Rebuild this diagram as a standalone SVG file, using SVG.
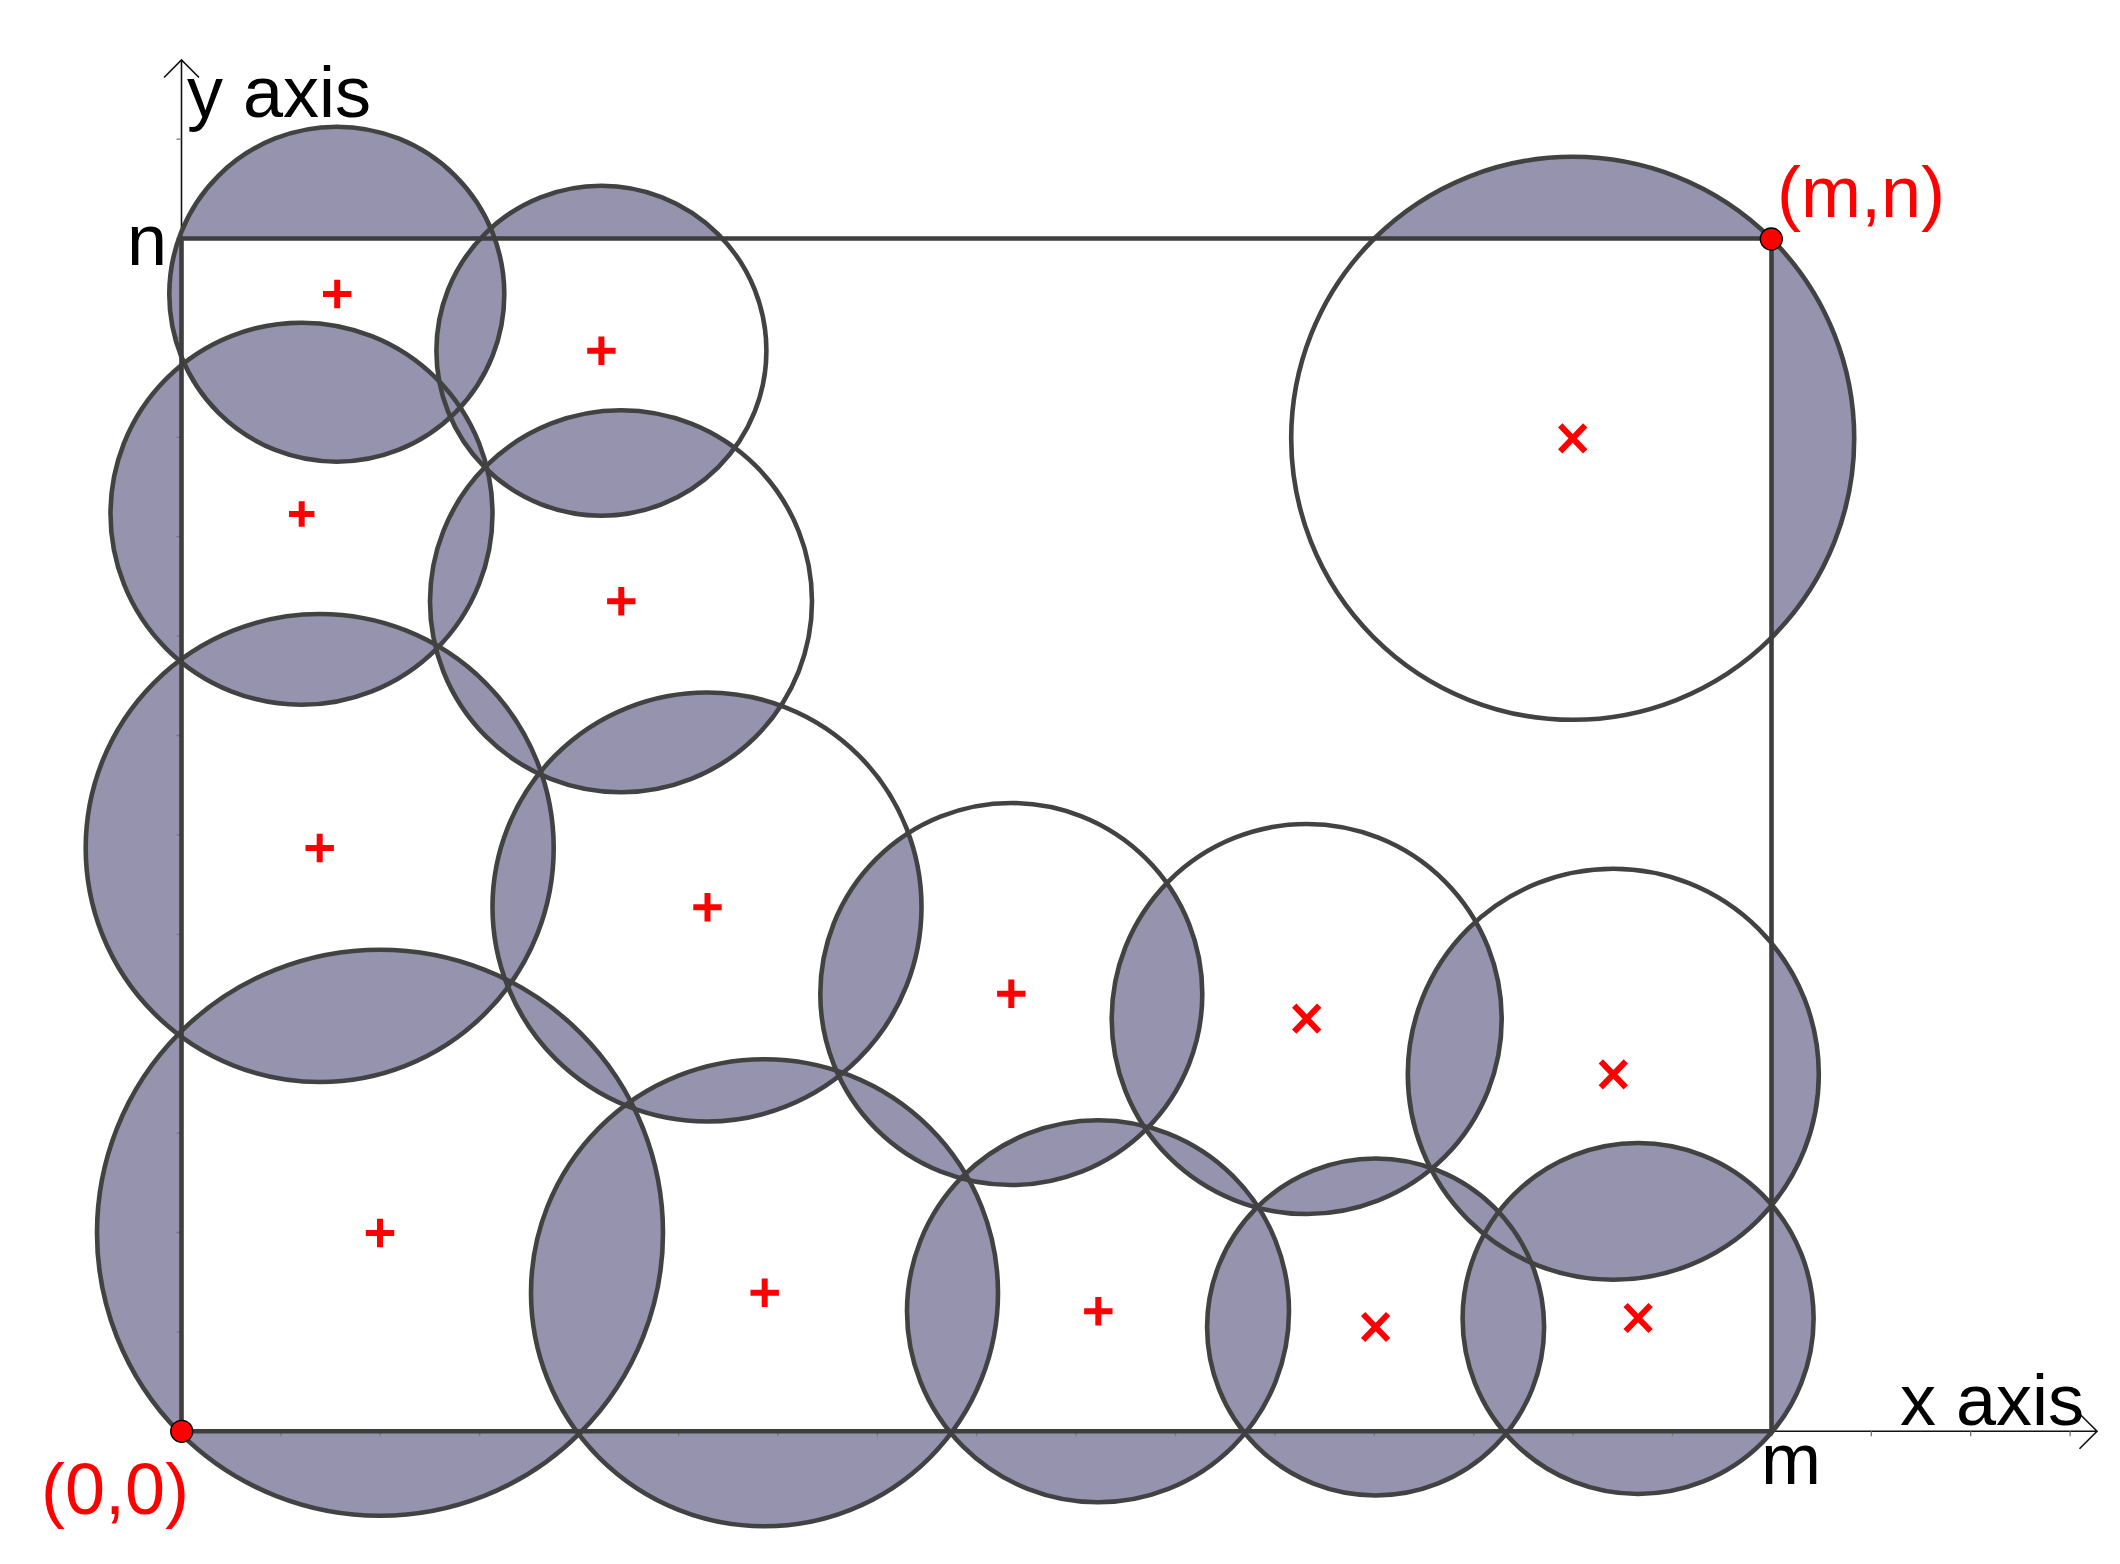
<svg xmlns="http://www.w3.org/2000/svg" xmlns:xlink="http://www.w3.org/1999/xlink" width="2120" height="1564" viewBox="0 0 2120 1564">
<style>
.sh{fill:#9693ae;stroke:none}
.ol{fill:none;stroke:#424242;stroke-width:4.6}
.rect{fill:none;stroke:#3e3e3e;stroke-width:4.6}
.ax{fill:none;stroke:#111;stroke-width:1.6}
.tk{stroke:#777;stroke-width:1.3}
.mk{stroke:#ff0000;stroke-width:6;fill:none}
.pt{fill:#ff0000;stroke:#000;stroke-width:1.3}
.lb{font-family:"Liberation Sans",Arial,sans-serif;font-size:72px;fill:#000}
.lr{font-family:"Liberation Sans",Arial,sans-serif;font-size:72px;fill:#ff0000}
</style>
<defs>
<circle id="c1" cx="336.8" cy="294.2" r="167.5"/>
<circle id="c2" cx="601.4" cy="350.7" r="165"/>
<circle id="c3" cx="301.5" cy="513.7" r="191"/>
<circle id="c4" cx="621" cy="601.3" r="191"/>
<circle id="c5" cx="319.7" cy="848" r="234"/>
<circle id="c6" cx="707" cy="907" r="214.5"/>
<circle id="c7" cx="380" cy="1232.7" r="283"/>
<circle id="c8" cx="764.5" cy="1292.7" r="233.5"/>
<circle id="c9" cx="1011.3" cy="994" r="191"/>
<circle id="c10" cx="1098" cy="1311.3" r="191"/>
<circle id="c11" cx="1306.7" cy="1019" r="195"/>
<circle id="c12" cx="1375.6" cy="1327" r="168.5"/>
<circle id="c13" cx="1613.3" cy="1074.3" r="205.5"/>
<circle id="c14" cx="1638.1" cy="1318.5" r="175.5"/>
<circle id="c15" cx="1572.7" cy="438.3" r="281.5"/>
<clipPath id="out"><path clip-rule="evenodd" d="M0 0H2120V1564H0Z M181.5 238.5V1431.3H1771.5V238.5Z"/></clipPath>
<clipPath id="k1"><use xlink:href="#c1"/></clipPath>
<clipPath id="k2"><use xlink:href="#c2"/></clipPath>
<clipPath id="k3"><use xlink:href="#c3"/></clipPath>
<clipPath id="k4"><use xlink:href="#c4"/></clipPath>
<clipPath id="k5"><use xlink:href="#c5"/></clipPath>
<clipPath id="k6"><use xlink:href="#c6"/></clipPath>
<clipPath id="k7"><use xlink:href="#c7"/></clipPath>
<clipPath id="k8"><use xlink:href="#c8"/></clipPath>
<clipPath id="k9"><use xlink:href="#c9"/></clipPath>
<clipPath id="k10"><use xlink:href="#c10"/></clipPath>
<clipPath id="k11"><use xlink:href="#c11"/></clipPath>
<clipPath id="k12"><use xlink:href="#c12"/></clipPath>
<clipPath id="k13"><use xlink:href="#c13"/></clipPath>
<clipPath id="k14"><use xlink:href="#c14"/></clipPath>
<path id="plus" d="M-14.2 0H14.2M0 -14.2V14.2"/>
<path id="plus-s" d="M-12.7 0H12.7M0 -12.7V12.7"/>
<path id="cross" d="M-12.5 -13L12.5 13M12.5 -13L-12.5 13"/>
</defs>
<rect width="2120" height="1564" fill="#fff"/>

<g id="shading-outside" class="sh" clip-path="url(#out)">
<use xlink:href="#c1"/><use xlink:href="#c2"/><use xlink:href="#c3"/><use xlink:href="#c4"/><use xlink:href="#c5"/>
<use xlink:href="#c6"/><use xlink:href="#c7"/><use xlink:href="#c8"/><use xlink:href="#c9"/><use xlink:href="#c10"/>
<use xlink:href="#c11"/><use xlink:href="#c12"/><use xlink:href="#c13"/><use xlink:href="#c14"/><use xlink:href="#c15"/>
</g>
<g id="shading-overlaps" class="sh">
<use xlink:href="#c1" clip-path="url(#k2)"/>
<use xlink:href="#c1" clip-path="url(#k3)"/>
<use xlink:href="#c2" clip-path="url(#k3)"/>
<use xlink:href="#c2" clip-path="url(#k4)"/>
<use xlink:href="#c3" clip-path="url(#k4)"/>
<use xlink:href="#c3" clip-path="url(#k5)"/>
<use xlink:href="#c4" clip-path="url(#k5)"/>
<use xlink:href="#c4" clip-path="url(#k6)"/>
<use xlink:href="#c5" clip-path="url(#k6)"/>
<use xlink:href="#c5" clip-path="url(#k7)"/>
<use xlink:href="#c6" clip-path="url(#k7)"/>
<use xlink:href="#c6" clip-path="url(#k8)"/>
<use xlink:href="#c6" clip-path="url(#k9)"/>
<use xlink:href="#c7" clip-path="url(#k8)"/>
<use xlink:href="#c8" clip-path="url(#k9)"/>
<use xlink:href="#c8" clip-path="url(#k10)"/>
<use xlink:href="#c9" clip-path="url(#k10)"/>
<use xlink:href="#c9" clip-path="url(#k11)"/>
<use xlink:href="#c10" clip-path="url(#k11)"/>
<use xlink:href="#c10" clip-path="url(#k12)"/>
<use xlink:href="#c11" clip-path="url(#k12)"/>
<use xlink:href="#c11" clip-path="url(#k13)"/>
<use xlink:href="#c12" clip-path="url(#k13)"/>
<use xlink:href="#c12" clip-path="url(#k14)"/>
<use xlink:href="#c13" clip-path="url(#k14)"/>
</g>

<g id="axes">
<path class="ax" d="M181.5 1431.3V60M164 77.5L181.5 60L199 77.5"/>
<path class="ax" d="M181.5 1431.3H2097M2079.5 1413.8L2097 1431.3L2079.5 1448.8"/>
<g class="tk">
<path d="M176.5 1331.9H181.5M176.5 1232.5H181.5M176.5 1133.1H181.5M176.5 1033.7H181.5M176.5 934.3H181.5M176.5 834.9H181.5M176.5 735.5H181.5M176.5 636.1H181.5M176.5 536.7H181.5M176.5 437.3H181.5M176.5 337.9H181.5M176.5 238.5H181.5M176.5 139.1H181.5"/>
<path d="M280.9 1431.3V1436.3M380.3 1431.3V1436.3M479.7 1431.3V1436.3M579.1 1431.3V1436.3M678.5 1431.3V1436.3M777.9 1431.3V1436.3M877.3 1431.3V1436.3M976.7 1431.3V1436.3M1076.1 1431.3V1436.3M1175.5 1431.3V1436.3M1274.9 1431.3V1436.3M1374.3 1431.3V1436.3M1473.7 1431.3V1436.3M1573.1 1431.3V1436.3M1672.5 1431.3V1436.3M1771.9 1431.3V1436.3M1871.3 1431.3V1436.3M1970.7 1431.3V1436.3M2070.1 1431.3V1436.3"/>
</g>
</g>

<g id="circles" class="ol">
<use xlink:href="#c1"/><use xlink:href="#c2"/><use xlink:href="#c3"/><use xlink:href="#c4"/><use xlink:href="#c5"/>
<use xlink:href="#c6"/><use xlink:href="#c7"/><use xlink:href="#c8"/><use xlink:href="#c9"/><use xlink:href="#c10"/>
<use xlink:href="#c11"/><use xlink:href="#c12"/><use xlink:href="#c13"/><use xlink:href="#c14"/><use xlink:href="#c15"/>
</g>

<g id="region">
<path class="rect" d="M181.5 238.5V1431.3H1771.5V238.5Z"/>
</g>

<g id="centres" class="mk">
<use xlink:href="#plus" x="337.2" y="294"/>
<use xlink:href="#plus" x="601.4" y="350.7"/>
<use xlink:href="#plus-s" x="301.7" y="514"/>
<use xlink:href="#plus" x="621.3" y="601.3"/>
<use xlink:href="#plus" x="319.7" y="848"/>
<use xlink:href="#plus" x="707.5" y="907.2"/>
<use xlink:href="#plus" x="380" y="1233"/>
<use xlink:href="#plus" x="764.7" y="1292.7"/>
<use xlink:href="#plus" x="1011.3" y="993.7"/>
<use xlink:href="#plus" x="1098.3" y="1311.3"/>
<use xlink:href="#cross" x="1306.7" y="1018.7"/>
<use xlink:href="#cross" x="1375.6" y="1327"/>
<use xlink:href="#cross" x="1613.3" y="1074.3"/>
<use xlink:href="#cross" x="1638.1" y="1318"/>
<use xlink:href="#cross" x="1572.7" y="438.3"/>
</g>

<g id="origin">
<circle class="pt" cx="181.7" cy="1431.3" r="11"/>
<text class="lr" x="41" y="1514">(0,0)</text>
</g>
<g id="corner">
<circle class="pt" cx="1771.3" cy="239" r="11"/>
<text class="lr" x="1777" y="216.5">(m,n)</text>
</g>

<g id="labels" class="lb">
<text x="187" y="116.7">y axis</text>
<text x="127" y="265">n</text>
<text x="1900" y="1425.3">x axis</text>
<text x="1761" y="1483.7">m</text>
</g>
</svg>
